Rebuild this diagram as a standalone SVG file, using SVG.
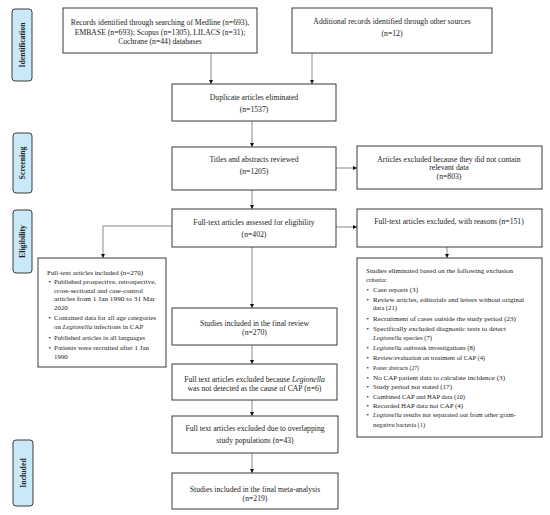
<svg xmlns="http://www.w3.org/2000/svg" width="550" height="515" viewBox="0 0 550 515">
<style>
.box{fill:#fff;stroke:#3a3a3a;stroke-width:1}
.lab{fill:#c9e8f8;stroke:#3a3a3a;stroke-width:1}
.t{font-family:"Liberation Serif","Times New Roman",serif;font-size:7.7px;fill:#222}
.c{text-anchor:middle}
.lista{font-family:"Liberation Serif","Times New Roman",serif;font-size:6.9px;fill:#222}
.listb{font-family:"Liberation Serif","Times New Roman",serif;font-size:6.7px;fill:#222}
.lt{font-family:"Liberation Serif","Times New Roman",serif;font-size:7.8px;font-weight:bold;fill:#222;text-anchor:middle}
.i{font-style:italic}
.con{fill:none;stroke:#8a8a8a;stroke-width:1;marker-end:url(#ah)}
</style>
<defs>
<marker id="ah" viewBox="0 0 10 10" refX="10" refY="5" markerWidth="4.5" markerHeight="4.5" orient="auto" markerUnits="userSpaceOnUse">
<path d="M0,0 L10,5 L0,10 Z" fill="#111"/>
</marker>
</defs>
<rect width="550" height="515" fill="#fff"/>

<g id="stage-identification"><rect class="lab" x="12" y="9" width="20" height="72" rx="3"/><text class="lt" transform="translate(25,45) rotate(-90)">Identification</text></g>
<g id="stage-screening"><rect class="lab" x="13" y="133" width="19" height="60" rx="3"/><text class="lt" transform="translate(25,163) rotate(-90)">Screening</text></g>
<g id="stage-eligibility"><rect class="lab" x="13" y="210" width="19" height="63" rx="3"/><text class="lt" transform="translate(25,241.5) rotate(-90)">Eligibility</text></g>
<g id="stage-included"><rect class="lab" x="13" y="440" width="20" height="66" rx="3"/><text class="lt" transform="translate(25.5,473) rotate(-90)">Included</text></g>

<g id="connectors">
<line class="con" x1="211" y1="53" x2="211" y2="84"/>
<line class="con" x1="312" y1="53" x2="312" y2="84"/>
<line class="con" x1="252" y1="121" x2="252" y2="147"/>
<line class="con" x1="336" y1="168" x2="357" y2="168"/>
<line class="con" x1="252" y1="190" x2="252" y2="209"/>
<line class="con" x1="336" y1="227" x2="357" y2="227"/>
<polyline class="con" points="172,226 103,226 103,258"/>
<line class="con" x1="447" y1="247" x2="447" y2="258"/>
<line class="con" x1="252" y1="247" x2="252" y2="308"/>
<line class="con" x1="252" y1="345" x2="252" y2="364"/>
<line class="con" x1="252" y1="400" x2="252" y2="416"/>
<line class="con" x1="252" y1="453" x2="252" y2="473"/>
</g>

<g id="records">
<rect class="box" x="63" y="8" width="194" height="45"/>
<text class="t c" x="160" y="25">Records identified through searching of Medline (n=693),</text>
<text class="t c" x="160" y="34.5">EMBASE (n=693); Scopus (n=1305), LILACS (n=31);</text>
<text class="t c" x="160" y="44">Cochrane (n=44) databases</text>
</g>

<g id="additional">
<rect class="box" x="292" y="8" width="200" height="45"/>
<text class="t c" x="392" y="24">Additional records identified through other sources</text>
<text class="t c" x="392" y="35.5">(n=12)</text>
</g>

<g id="duplicates">
<rect class="box" x="172" y="84" width="164" height="37"/>
<text class="t c" x="254" y="100">Duplicate articles eliminated</text>
<text class="t c" x="254" y="112">(n=1537)</text>
</g>

<g id="titles">
<rect class="box" x="172" y="147" width="164" height="43"/>
<text class="t c" x="254" y="161.5">Titles and abstracts reviewed</text>
<text class="t c" x="254" y="173.5">(n=1205)</text>
</g>

<g id="excluded-803">
<rect class="box" x="357" y="146" width="185" height="43"/>
<text class="t c" x="449" y="161.5">Articles excluded because they did not contain</text>
<text class="t c" x="449" y="170">relevant data</text>
<text class="t c" x="449" y="178.5">(n=803)</text>
</g>

<g id="fulltext">
<rect class="box" x="172" y="209" width="164" height="38"/>
<text class="t c" x="254" y="224.5">Full-text articles assessed for eligibility</text>
<text class="t c" x="254" y="236.5">(n=402)</text>
</g>

<g id="excluded-151">
<rect class="box" x="357" y="209" width="185" height="38"/>
<text class="t c" x="449" y="224">Full-text articles excluded, with reasons (n=151)</text>
</g>

<g id="included-270" class="lista">
<rect class="box" x="38" y="258" width="128" height="109"/>
<text x="47" y="275" textLength="96" lengthAdjust="spacingAndGlyphs">Full-text articles included (n=270)</text>
<text x="48.5" y="284">•</text><text x="54" y="284" textLength="102" lengthAdjust="spacingAndGlyphs">Published prospective, retrospective,</text>
<text x="54" y="292.5" textLength="89" lengthAdjust="spacingAndGlyphs">cross-sectional and case-control</text>
<text x="54" y="301" textLength="101" lengthAdjust="spacingAndGlyphs">articles from 1 Jan 1990 to 31 Mar</text>
<text x="54" y="309.5">2020</text>
<text x="48.5" y="320">•</text><text x="54" y="320" textLength="102" lengthAdjust="spacingAndGlyphs">Contained data for all age categories</text>
<text x="54" y="328.5">on <tspan class="i">Legionella</tspan> infections in CAP</text>
<text x="48.5" y="340">•</text><text x="54" y="340" textLength="91" lengthAdjust="spacingAndGlyphs">Published articles in all languages</text>
<text x="48.5" y="350">•</text><text x="54" y="350" textLength="95" lengthAdjust="spacingAndGlyphs">Patients were recruited after 1 Jan</text>
<text x="54" y="358.5">1990</text>
</g>

<g id="eliminated" class="listb">
<rect class="box" x="357" y="258" width="185" height="179"/>
<text x="366" y="273" textLength="147" lengthAdjust="spacingAndGlyphs">Studies eliminated based on the following exclusion</text>
<text x="366" y="282">criteria:</text>
<text x="366.5" y="292">•</text><text x="373" y="292" textLength="45" lengthAdjust="spacingAndGlyphs">Case reports (3)</text>
<text x="366.5" y="301.5">•</text><text x="373" y="301.5" textLength="151" lengthAdjust="spacingAndGlyphs">Review articles, editorials and letters without original</text>
<text x="373" y="310">data (21)</text>
<text x="366.5" y="321">•</text><text x="373" y="321" textLength="143" lengthAdjust="spacingAndGlyphs">Recruitment of cases outside the study period (23)</text>
<text x="366.5" y="330.5">•</text><text x="373" y="330.5" textLength="133" lengthAdjust="spacingAndGlyphs">Specifically excluded diagnostic tests to detect</text>
<text x="373" y="339.5"><tspan class="i">Legionella</tspan> species (7)</text>
<text x="366.5" y="350">•</text><text x="373" y="350"><tspan class="i">Legionella</tspan> outbreak investigations (8)</text>
<text x="366.5" y="360">•</text><text x="373" y="360" textLength="112" lengthAdjust="spacingAndGlyphs">Review/evaluation on treatment of CAP (4)</text>
<text x="366.5" y="370">•</text><text x="373" y="370" textLength="46" lengthAdjust="spacingAndGlyphs">Poster abstracts (27)</text>
<text x="366.5" y="379.5">•</text><text x="373" y="379.5" textLength="132" lengthAdjust="spacingAndGlyphs">No CAP patient data to calculate incidence (3)</text>
<text x="366.5" y="389">•</text><text x="373" y="389" textLength="79" lengthAdjust="spacingAndGlyphs">Study period not stated (17)</text>
<text x="366.5" y="398.5">•</text><text x="373" y="398.5" textLength="92" lengthAdjust="spacingAndGlyphs">Combined CAP and HAP data (10)</text>
<text x="366.5" y="407.5">•</text><text x="373" y="407.5" textLength="90" lengthAdjust="spacingAndGlyphs">Recorded HAP data not CAP (4)</text>
<text x="366.5" y="417">•</text><text x="373" y="417"><tspan class="i">Legionella</tspan> results not separated out from other gram-</text>
<text x="373" y="427" textLength="52" lengthAdjust="spacingAndGlyphs">negative bacteria (1)</text>
</g>

<g id="final-review">
<rect class="box" x="172" y="308" width="165" height="37"/>
<text class="t c" x="254.5" y="325.5">Studies included in the final review</text>
<text class="t c" x="254.5" y="335">(n=270)</text>
</g>

<g id="excluded-legionella">
<rect class="box" x="172" y="364" width="165" height="36"/>
<text class="t c" x="254.5" y="381.5">Full text articles excluded because <tspan class="i">Legionella</tspan></text>
<text class="t c" x="254.5" y="391">was not detected as the cause of CAP (n=6)</text>
</g>

<g id="excluded-overlap">
<rect class="box" x="172" y="416" width="166" height="37"/>
<text class="t c" x="255" y="431">Full text articles excluded due to overlapping</text>
<text class="t c" x="255" y="443">study populations (n=43)</text>
</g>

<g id="meta-analysis">
<rect class="box" x="172" y="473" width="166" height="36"/>
<text class="t c" x="255" y="491.5">Studies included in the final meta-analysis</text>
<text class="t c" x="255" y="500.5">(n=219)</text>
</g>
</svg>
